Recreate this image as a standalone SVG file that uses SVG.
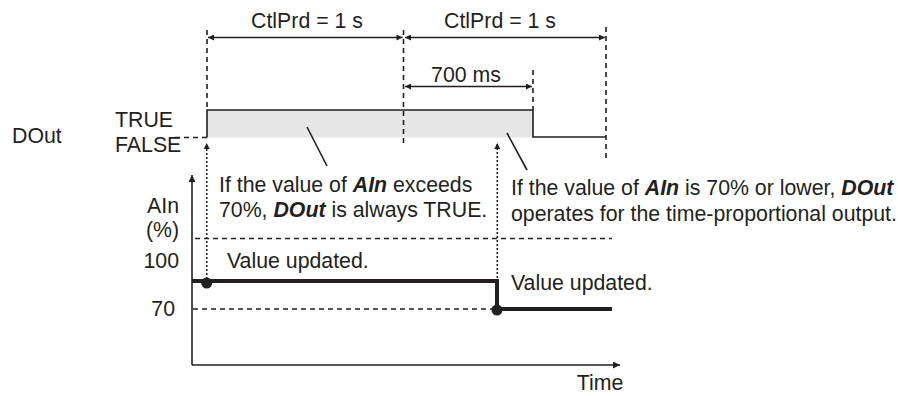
<svg xmlns="http://www.w3.org/2000/svg" width="898" height="396" viewBox="0 0 898 396">
<defs>
<marker id="ah" viewBox="0 0 10 10" refX="10" refY="5" markerWidth="7" markerHeight="6" markerUnits="userSpaceOnUse" orient="auto-start-reverse">
<path d="M0,0 L10,5 L0,10 z" fill="#231f20"/>
</marker>
<marker id="ahb" viewBox="0 0 10 10" refX="10" refY="5" markerWidth="9" markerHeight="7" markerUnits="userSpaceOnUse" orient="auto-start-reverse">
<path d="M0,0 L10,5 L0,10 z" fill="#231f20"/>
</marker>
</defs>
<style>
text{font-family:"Liberation Sans",Arial,sans-serif;font-size:21.3px;fill:#231f20}
.b{font-weight:bold;font-style:italic}
.dash{stroke:#231f20;stroke-width:1.6;stroke-dasharray:5 4;fill:none}
.dot{stroke:#231f20;stroke-width:1.6;stroke-dasharray:2 2;fill:none}
.ln{stroke:#231f20;stroke-width:1.6;fill:none}
.thick{stroke:#231f20;stroke-width:4;fill:none}
</style>
<rect x="0" y="0" width="898" height="396" fill="#ffffff"/>
<g id="dout-signal">
<rect x="207" y="110" width="326" height="27.5" fill="#e6e6e7"/>
<polyline class="ln" points="207,137.5 207,110 533,110 533,137 606,137"/>
<line class="dash" x1="175" y1="137.5" x2="207" y2="137.5"/>
<text x="12" y="143">DOut</text>
<text x="115" y="127">TRUE</text>
<text x="115" y="152">FALSE</text>
</g>
<g id="period-guides">
<line class="dash" x1="207" y1="30" x2="207" y2="110"/>
<line class="dash" x1="403.5" y1="30" x2="403.5" y2="145"/>
<line class="dash" x1="606" y1="27" x2="606" y2="160"/>
<line class="dash" x1="533" y1="70" x2="533" y2="110"/>
</g>
<g id="ctlprd-1">
<line class="ln" x1="208" y1="37.5" x2="402.5" y2="37.5" marker-start="url(#ah)" marker-end="url(#ah)"/>
<text x="307" y="28" text-anchor="middle">CtlPrd = 1 s</text>
</g>
<g id="ctlprd-2">
<line class="ln" x1="405" y1="37.5" x2="605" y2="37.5" marker-start="url(#ah)" marker-end="url(#ah)"/>
<text x="500" y="28" text-anchor="middle">CtlPrd = 1 s</text>
</g>
<g id="dur-700ms">
<line class="ln" x1="405" y1="86.5" x2="532" y2="86.5" marker-start="url(#ah)" marker-end="url(#ah)"/>
<text x="466" y="82" text-anchor="middle">700 ms</text>
</g>
<g id="note-left">
<line class="ln" x1="307" y1="127" x2="327" y2="166" stroke-width="1.4"/>
<text x="219" y="192"><tspan>If the value of </tspan><tspan class="b">AIn</tspan><tspan> exceeds</tspan></text>
<text x="219" y="217"><tspan>70%, </tspan><tspan class="b">DOut</tspan><tspan> is always TRUE.</tspan></text>
</g>
<g id="note-right">
<line class="ln" x1="507" y1="133" x2="527" y2="170" stroke-width="1.4"/>
<text x="511" y="195"><tspan>If the value of </tspan><tspan class="b">AIn</tspan><tspan> is 70% or lower, </tspan><tspan class="b">DOut</tspan></text>
<text x="511" y="221">operates for the time-proportional output.</text>
</g>
<g id="axes">
<line class="ln" x1="192" y1="365" x2="192" y2="175" marker-end="url(#ahb)"/>
<line class="ln" x1="192" y1="365" x2="620" y2="365" marker-end="url(#ahb)"/>
<text x="179" y="213" text-anchor="end">AIn</text>
<text x="179" y="237" text-anchor="end">(%)</text>
<text x="179" y="268" text-anchor="end">100</text>
<text x="175" y="316" text-anchor="end">70</text>
<text x="600" y="390" text-anchor="middle">Time</text>
</g>
<g id="ain-levels">
<line class="dash" x1="195" y1="238.5" x2="612" y2="238.5"/>
<line class="dash" x1="193" y1="309" x2="497" y2="309"/>
<polyline class="thick" points="192,281 497,281 497,309 612,309"/>
</g>
<g id="update-1">
<line class="dot" x1="206.7" y1="283" x2="206.7" y2="143" marker-end="url(#ah)"/>
<circle cx="206.7" cy="283" r="5.5" fill="#231f20"/>
<text x="227" y="268">Value updated.</text>
</g>
<g id="update-2">
<line class="dot" x1="497.3" y1="310" x2="497.3" y2="143" marker-end="url(#ah)"/>
<circle cx="497" cy="310" r="5.5" fill="#231f20"/>
<text x="511" y="290">Value updated.</text>
</g>
</svg>
